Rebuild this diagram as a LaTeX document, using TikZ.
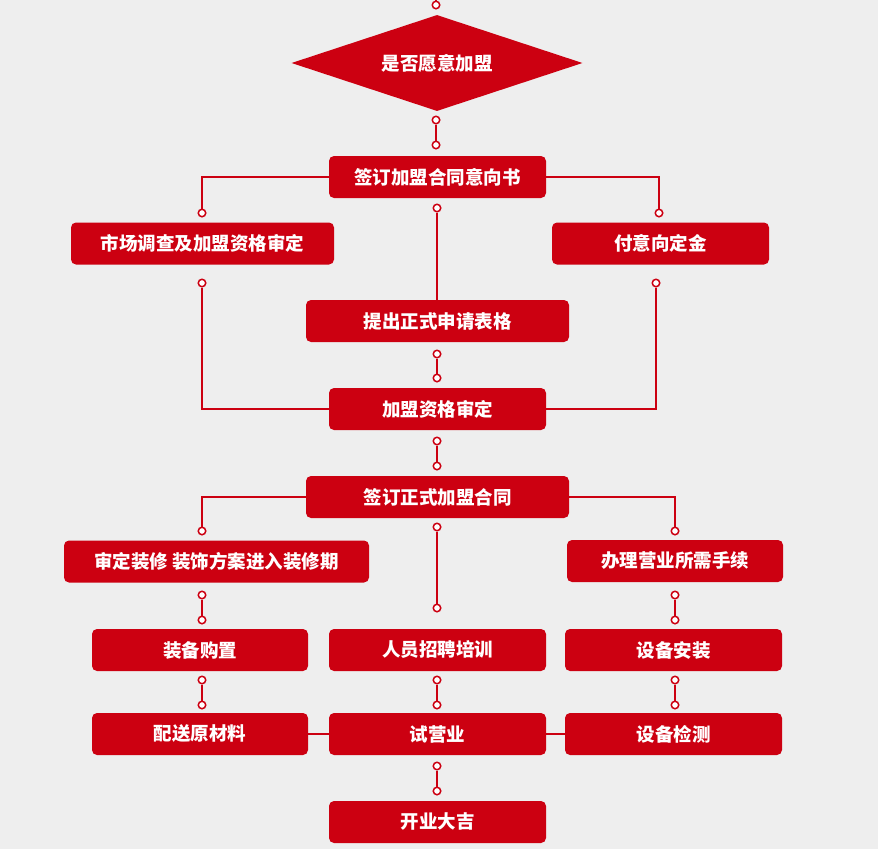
\documentclass[tikz,border=0pt]{standalone}
\usepackage{fontspec}
\newfontfamily\cjk{Noto Sans CJK SC}
\usetikzlibrary{shapes.geometric,calc}
\definecolor{flowred}{HTML}{CC0011}
\definecolor{flowbg}{HTML}{EEEEEE}
\tikzset{
  label font/.style={text=white, font=\cjk\bfseries\fontsize{18.5}{22}\selectfont},
  box/.style={label font, fill=flowred, rounded corners=5pt, minimum height=42pt, inner sep=0pt},
  ask shape/.style={label font, fill=flowred, diamond, aspect=3, inner sep=0pt, minimum width=291pt, minimum height=96pt},
  dot/.style={circle, draw=flowred, fill=white, line width=1.5pt, minimum size=7.5pt, inner sep=0pt},
  link/.style={draw=flowred, line width=1.6pt},
}
\begin{document}
\begin{tikzpicture}[x=1pt,y=-1pt]
\fill[flowbg] (0,0) rectangle (878,849);
\useasboundingbox (0,0) rectangle (878,849);
% ---- blocchi ----
\node[ask shape] (ask) at (437,63) {是否愿意加盟};
\node[box,minimum width=217pt] (intent) at (437.5,177) {签订加盟合同意向书};
\node[box,minimum width=263pt] (survey) at (202.5,243.5) {市场调查及加盟资格审定};
\node[box,minimum width=217pt] (deposit) at (660.5,243.5) {付意向定金};
\node[box,minimum width=263pt] (apply) at (437.5,321) {提出正式申请表格};
\node[box,minimum width=217pt] (review) at (437.5,409) {加盟资格审定};
\node[box,minimum width=263pt] (contract) at (437.5,497) {签订正式加盟合同};
\node[box,minimum width=305pt] (decor) at (216.5,561.5) {审定装修 装饰方案进入装修期};
\node[box,minimum width=216pt] (license) at (675,561) {办理营业所需手续};
\node[box,minimum width=216pt] (equip) at (200,650) {装备购置};
\node[box,minimum width=217pt] (staff) at (437.5,650) {人员招聘培训};
\node[box,minimum width=217pt] (install) at (673.5,650) {设备安装};
\node[box,minimum width=216pt] (supply) at (200,734) {配送原材料};
\node[box,minimum width=217pt] (trial) at (437.5,734) {试营业};
\node[box,minimum width=217pt] (check) at (673.5,734) {设备检测};
\node[box,minimum width=217pt] (open) at (437.5,822) {开业大吉};
% ---- ingresso in alto ----
\coordinate (entry) at (436,0);
\node[dot] (entrydot) at (436,5) {};
\draw[link] (entry) -- (entrydot);
% ---- coppie di pallini verticali ----
\foreach \n/\x/\ya/\yb in {askdot/436/120/145, appdot/437/354/378, revdot/437/441/466,
    ctrdot/437/527/608, decdot/202/595/620, licdot/675/595/620,
    eqdot/202/680/705, stdot/437/680/705, indot/675/680/705, trdot/437/766/791}{
  \node[dot] (\n a) at (\x,\ya) {};
  \node[dot] (\n b) at (\x,\yb) {};
  \draw[link] (\n a) -- (\n b);
}
% ---- rami laterali ----
\node[dot] (intentL) at (202,213) {};
\node[dot] (intentR) at (659,213) {};
\node[dot] (intentM) at (437,208) {};
\node[dot] (surveyD) at (202,283) {};
\node[dot] (depositD) at (656,283) {};
\node[dot] (contractL) at (202,531) {};
\node[dot] (contractR) at (675,531) {};
\draw[link] (intent.west) -| (intentL);
\draw[link] (intent.east) -| (intentR);
\draw[link] (intentM) -- (intentM |- apply.north);
\draw[link] (surveyD) |- (review.west);
\draw[link] (depositD) |- (review.east);
\draw[link] (contract.west) -| (contractL);
\draw[link] (contract.east) -| (contractR);
\draw[link] (supply.east) -- (trial.west);
\draw[link] (trial.east) -- (check.west);
\end{tikzpicture}
\end{document}
